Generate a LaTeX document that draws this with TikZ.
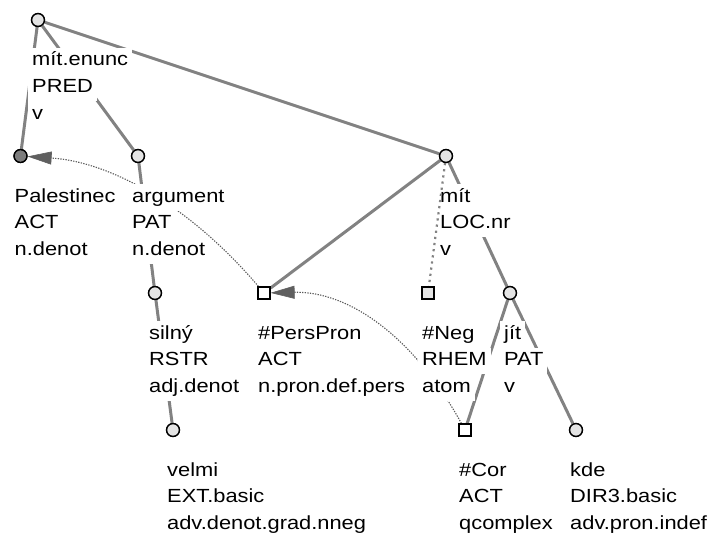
\documentclass[tikz,border=0pt]{standalone}
\usepackage{fontspec}
\setmainfont{Liberation Sans}[FakeStretch=1.15]
\usetikzlibrary{arrows.meta,calc}

\definecolor{edgegray}{RGB}{130,130,130}
\definecolor{corefgray}{RGB}{90,90,90}
\definecolor{tipgray}{RGB}{95,95,95}
\definecolor{vlight}{RGB}{228,228,228}
\definecolor{vdark}{RGB}{125,125,125}

\tikzset{
  vtx/.style={circle, draw=black, line width=1.2pt, fill=vlight,
              minimum size=13pt, inner sep=0pt},
  hidvtx/.style={rectangle, draw=black, line width=1.2pt, fill=white,
              minimum size=12pt, inner sep=0pt},
  treeedge/.style={draw=edgegray, line width=3pt},
  negedge/.style={draw=edgegray, line width=2.2pt, dash pattern=on 2.2pt off 4pt},
  coref/.style={draw=corefgray, line width=1.1pt, dash pattern=on 1.3pt off 1.3pt,
              -{Triangle[length=24pt,width=13pt,fill=tipgray,color=tipgray,line width=0.6pt]}},
  lbl/.style={anchor=base west, fill=white, inner xsep=4pt, inner ysep=0pt,
              text height=18pt, text depth=8.5pt,
              font=\fontsize{19}{26}\selectfont},
}

% three stacked attribute lines under a vertex
\newcommand\tlab[4]{%
  \node[lbl] (#1-1) at ($(#1.center)+(-10,46)$) {#2};
  \node[lbl] (#1-2) at ($(#1.center)+(-10,72.5)$) {#3};
  \node[lbl] (#1-3) at ($(#1.center)+(-10,99)$) {#4};}

\begin{document}
\begin{tikzpicture}[x=1pt,y=-1pt]
\useasboundingbox (0,0) rectangle (709,535);

% vertices
\node[vtx] (root) at (38,20) {};
\node[vtx, fill=vdark] (pal) at (20.5,156) {};
\node[vtx] (arg) at (138,156) {};
\node[vtx] (mitl) at (446,156) {};
\node[vtx] (silny) at (155,293) {};
\node[hidvtx] (pers) at (264,293) {};
\node[hidvtx, fill=vlight] (neg) at (428,293) {};
\node[vtx] (jit) at (510,293) {};
\node[vtx] (velmi) at (173,430) {};
\node[hidvtx] (cor) at (465,430) {};
\node[vtx] (kde) at (576,430) {};

% tree edges
\draw[treeedge] (root) -- (pal);
\draw[treeedge] (root) -- (arg);
\draw[treeedge] (root) -- (mitl);
\draw[treeedge] (arg) -- (silny);
\draw[treeedge] (silny) -- (velmi);
\draw[treeedge] (mitl) -- (pers);
\draw[treeedge] (mitl) -- (jit);
\draw[treeedge] (jit) -- (cor);
\draw[treeedge] (jit) -- (kde);

% coreference arrows
\draw[coref] (pers) .. controls (191,207) and (112,162) .. (pal);
\draw[coref] (cor) .. controls (414,337) and (349,291) .. (pers);

% node labels
\tlab{root}{mít.enunc}{PRED}{v}
\tlab{pal}{Palestinec}{ACT}{n.denot}
\tlab{arg}{argument}{PAT}{n.denot}
\tlab{mitl}{mít}{LOC.nr}{v}
\tlab{silny}{silný}{RSTR}{adj.denot}
\tlab{pers}{\#PersPron}{ACT}{n.pron.def.pers}
\tlab{neg}{\#Neg}{RHEM}{atom}
\tlab{jit}{jít}{PAT}{v}
\tlab{velmi}{velmi}{EXT.basic}{adv.denot.grad.nneg}
\tlab{cor}{\#Cor}{ACT}{qcomplex}
\tlab{kde}{kde}{DIR3.basic}{adv.pron.indef}

% dotted edge to the negation node
\draw[negedge] (mitl) -- (neg);

% redraw vertex outlines above everything
\foreach \v in {root,pal,arg,mitl,silny,jit,velmi,kde}
  \node[vtx, fill=none] at (\v) {};
\foreach \v in {pers,neg,cor}
  \node[hidvtx, fill=none] at (\v) {};
\end{tikzpicture}
\end{document}
